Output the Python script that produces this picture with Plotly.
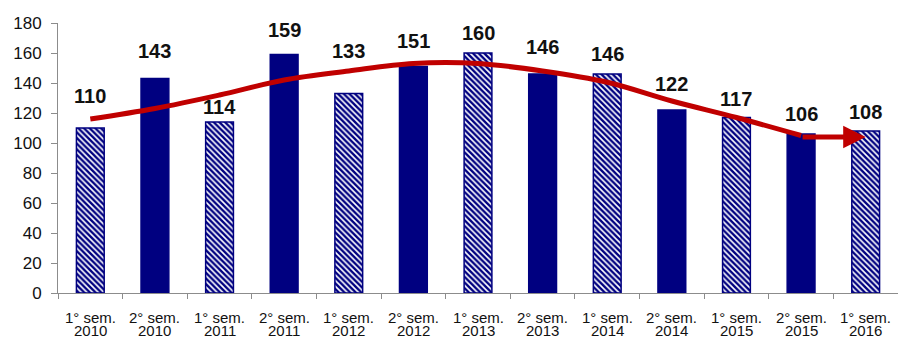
import plotly.graph_objects as go

# semesters and counts
semesters = ["1° sem.", "2° sem.", "1° sem.", "2° sem.", "1° sem.", "2° sem.", "1° sem.",
             "2° sem.", "1° sem.", "2° sem.", "1° sem.", "2° sem.", "1° sem."]
years = ["2010", "2010", "2011", "2011", "2012", "2012", "2013",
         "2013", "2014", "2014", "2015", "2015", "2016"]
values = [110, 143, 114, 159, 133, 151, 160, 146, 146, 122, 117, 106, 108]
# red trend curve, one point per semester
trend = [116, 123, 132, 142, 148, 153, 153, 148, 140.5, 128, 117, 105, 104]

NAVY = "#000080"
RED = "#C00000"
FONT = "Liberation Sans, Arial"
# pixel lift of each value label above its bar
label_shift = [32, 28, 15, 25, 43, 26, 20, 27, 20, 26, 19, 20, 19]

x = list(range(len(values)))
first = [i for i, s in enumerate(semesters) if s.startswith("1")]
second = [i for i, s in enumerate(semesters) if s.startswith("2")]

fig = go.Figure()

# 1st semester: hatched bars
fig.add_trace(go.Bar(
    x=first, y=[values[i] for i in first], width=0.43, showlegend=False,
    marker=dict(color="white", line=dict(color=NAVY, width=1.5),
                pattern=dict(shape="\\", fgcolor=NAVY, fgopacity=1, bgcolor="white",
                             size=4, solidity=0.6)),
))
# 2nd semester: solid bars
fig.add_trace(go.Bar(
    x=second, y=[values[i] for i in second], width=0.43, showlegend=False,
    marker=dict(color=NAVY, line=dict(color=NAVY, width=1.5)),
))

fig.add_trace(go.Scatter(
    x=x[:-1], y=trend[:-1], mode="lines", showlegend=False,
    line=dict(color=RED, width=5, shape="spline", smoothing=1.0),
))

# arrow on the last stretch of the trend
fig.add_annotation(x=x[-1], y=trend[-1], ax=x[-2], ay=trend[-1], xref="x", yref="y",
                   axref="x", ayref="y", text="", showarrow=True, arrowhead=2,
                   arrowsize=0.9, arrowwidth=5, arrowcolor=RED, standoff=0)

for i, v in enumerate(values):
    fig.add_annotation(x=i, y=v, text="<b>%d</b>" % v, showarrow=False,
                       yshift=label_shift[i], yanchor="middle",
                       font=dict(family=FONT, size=20, color="#111"))
    fig.add_annotation(x=i, y=0, xref="x", yref="paper", text=semesters[i], showarrow=False,
                       yshift=-24, yanchor="middle",
                       font=dict(family=FONT, size=15, color="#111"))
    fig.add_annotation(x=i, y=0, xref="x", yref="paper", text=years[i], showarrow=False,
                       yshift=-37, yanchor="middle",
                       font=dict(family=FONT, size=15, color="#111"))

fig.update_xaxes(range=[-0.5, 12.5], showticklabels=False, ticks="", showgrid=False,
                 zeroline=False, showline=True, linecolor="#8c8c8c", linewidth=1,
                 minor=dict(tickvals=[i - 0.5 for i in range(len(values) + 1)],
                            ticks="outside", ticklen=5, tickcolor="#8c8c8c", showgrid=False))
fig.update_yaxes(range=[0, 180], dtick=20, showgrid=False, zeroline=False,
                 showline=True, linecolor="#8c8c8c", linewidth=1,
                 ticks="outside", ticklen=6, tickcolor="#8c8c8c", ticklabelstandoff=6,
                 tickfont=dict(family=FONT, size=17, color="#111"))

fig.update_layout(width=898, height=340, plot_bgcolor="white", paper_bgcolor="white",
                  margin=dict(l=58, r=0, t=23, b=47), barmode="overlay")

# page body has an 8px default margin, drop it so the figure fills the window
fig.write_html("out.html", config={"displayModeBar": False},
               post_script="document.body.style.margin='0';")
